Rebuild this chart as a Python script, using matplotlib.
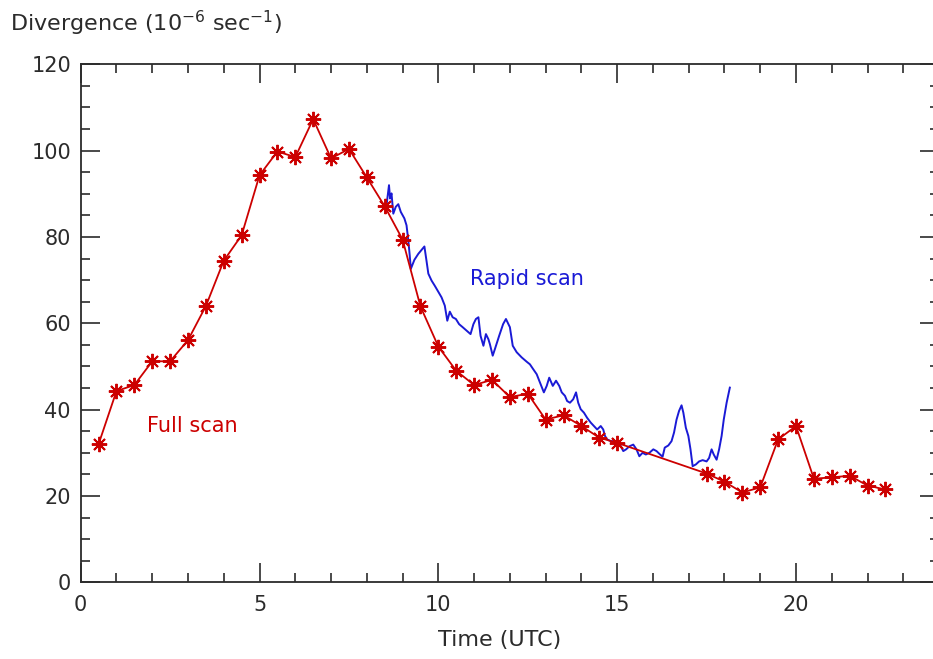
"""
Divergence time series: full scan vs rapid scan.
"""

import matplotlib
matplotlib.use('Agg')
import matplotlib.pyplot as plt

#
#  Full scan (half-hourly), hours UTC and divergence in 1e-6 s^-1
#

full_t = [0.5, 1.0, 1.5, 2.0, 2.5, 3.0, 3.5, 4.0, 4.5, 5.0,
          5.5, 6.0, 6.5, 7.0, 7.5, 8.0, 8.5, 9.0, 9.5, 10.0,
          10.5, 11.0, 11.5, 12.0, 12.5, 13.0, 13.5, 14.0, 14.5, 15.0,
          17.5, 18.0, 18.5, 19.0, 19.5, 20.0, 20.5, 21.0, 21.5, 22.0, 22.5]
full_div = [32.0, 44.3, 45.7, 51.2, 51.2, 56.1, 64.0, 74.5, 80.4, 94.3,
            99.8, 98.5, 107.3, 98.2, 100.4, 93.8, 87.1, 79.4, 63.9, 54.6,
            49.0, 45.7, 46.9, 42.9, 43.7, 37.7, 38.7, 36.2, 33.5, 32.3,
            25.2, 23.3, 20.8, 22.0, 33.1, 36.2, 24.0, 24.3, 24.7, 22.4, 21.5]

#
#  Rapid scan
#

rapid_t = [8.55, 8.62, 8.65, 8.69, 8.74, 8.81, 8.88, 8.95, 9.05, 9.11,
           9.16, 9.20, 9.23, 9.33, 9.44, 9.61, 9.67, 9.72, 9.81, 9.90,
           10.02, 10.09, 10.18, 10.25, 10.32, 10.40, 10.49, 10.58, 10.68, 10.79,
           10.90, 10.98, 11.05, 11.12, 11.18, 11.26, 11.33, 11.40, 11.44, 11.52,
           11.58, 11.70, 11.81, 11.89, 12.00, 12.08, 12.19, 12.33, 12.47, 12.56,
           12.65, 12.75, 12.84, 12.95, 13.03, 13.10, 13.20, 13.29, 13.38, 13.45,
           13.54, 13.60, 13.68, 13.77, 13.85, 13.91, 13.98, 14.07, 14.16, 14.26,
           14.35, 14.44, 14.54, 14.61, 14.66, 14.72, 14.82, 14.91, 15.00, 15.08,
           15.17, 15.25, 15.34, 15.45, 15.54, 15.62, 15.71, 15.80, 15.90, 16.01,
           16.10, 16.20, 16.27, 16.33, 16.43, 16.52, 16.59, 16.66, 16.73, 16.80,
           16.85, 16.92, 16.99, 17.05, 17.11, 17.20, 17.29, 17.39, 17.50, 17.57,
           17.64, 17.70, 17.78, 17.85, 17.92, 17.98, 18.06, 18.15]
rapid_div = [87.3, 92.0, 88.9, 90.1, 85.4, 87.0, 87.6, 85.8, 84.3, 82.7,
             79.2, 75.7, 72.6, 74.7, 76.1, 77.8, 74.4, 71.5, 69.9, 68.7,
             67.0, 66.0, 64.1, 60.6, 62.7, 61.4, 61.0, 59.8, 59.1, 58.3,
             57.5, 59.8, 61.0, 61.4, 57.1, 54.8, 57.5, 56.3, 55.2, 52.5,
             54.0, 57.1, 59.8, 61.0, 59.1, 54.8, 53.3, 52.1, 51.1, 50.5,
             49.4, 48.2, 46.3, 44.0, 45.5, 47.4, 45.5, 46.7, 45.5, 44.0,
             43.2, 42.0, 41.6, 42.4, 44.0, 41.6, 40.1, 39.3, 38.1, 37.0,
             36.2, 35.4, 36.2, 35.4, 33.9, 33.1, 32.7, 32.7, 32.7, 31.9,
             30.4, 30.8, 31.5, 31.9, 30.8, 29.2, 30.0, 29.6, 30.0, 30.8,
             30.4, 29.6, 29.1, 31.2, 31.7, 32.7, 34.7, 37.7, 39.7, 41.0,
             39.3, 35.8, 33.9, 30.8, 26.9, 27.3, 28.0, 28.3, 28.0, 28.8,
             30.8, 29.6, 28.4, 30.8, 33.9, 37.7, 41.6, 45.1]

red = '#cc0000'
blue = '#1a1ad6'
ink = '#2b2b2b'

plt.rcParams['font.family'] = 'DejaVu Sans'

fig = plt.figure(figsize=(9.33, 6.59), dpi=100)
ax = fig.add_axes([0.0865, 0.1164, 0.920, 0.786])

ax.plot(full_t, full_div, color=red, lw=1.3, marker=(8, 2, 0),
        ms=11, mew=1.4, mec=red, zorder=3)
ax.plot(rapid_t, rapid_div, color=blue, lw=1.4, zorder=2)

ax.text(1.85, 36.3, 'Full scan', color=red, fontsize=15, va='center')
ax.text(10.88, 70.3, 'Rapid scan', color=blue, fontsize=15, va='center')

ax.set_xlim(0, 24)
ax.set_ylim(0, 120)
ax.set_xticks([0, 5, 10, 15, 20])
ax.set_xticks(range(0, 25), minor=True)
ax.set_yticks(range(0, 121, 20))
ax.set_yticks(range(0, 121, 5), minor=True)

ax.tick_params(which='both', direction='in', top=True, right=True,
               color=ink, width=1.2, labelsize=15, labelcolor=ink)
ax.tick_params(which='major', length=13.4)
ax.tick_params(which='minor', length=6.7)
ax.tick_params(axis='y', pad=7)
ax.tick_params(axis='x', pad=9)

for sp in ax.spines.values():
    sp.set_color(ink)
    sp.set_linewidth(1.3)

fig.text(500 / 933, 1 - 640 / 659, 'Time (UTC)', color=ink, fontsize=16,
         ha='center', va='center')
fig.text(10 / 933, 1 - 23 / 659, r'Divergence (10$^{-6}$ sec$^{-1}$)',
         color=ink, fontsize=16, ha='left', va='center')

fig.savefig('out.png', dpi=100)
